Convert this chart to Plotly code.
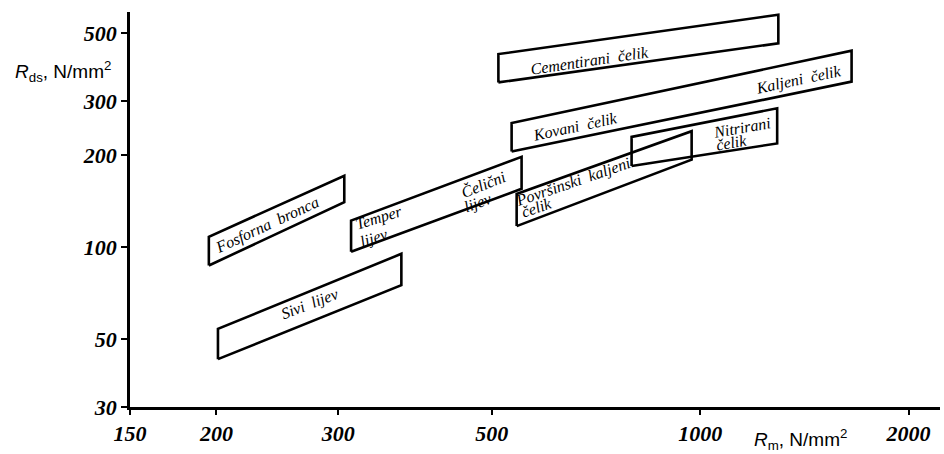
import numpy as np
import plotly.graph_objects as go

# podrucja (paralelogrami): Rm na lijevom i desnom rubu, Rds u kutovima
regions = ["Fosforna bronca", "Sivi lijev", "Temper/Čelični lijev", "Površinski kaljeni čelik",
           "Nitrirani čelik", "Kovani/Kaljeni čelik", "Cementirani čelik"]
rm_left = [195, 201, 313, 543, 796, 534, 511]
rm_right = [306, 370, 552, 972, 1292, 1655, 1297]
rds_left_low = [87, 43, 96.5, 117, 184, 205, 345]
rds_left_high = [108, 54, 122, 149, 229, 254, 427]
rds_right_high = [171, 95, 197, 239, 284, 438, 574]
rds_right_low = [140, 75, 155, 193, 218, 347, 463]

# natpisi
label_text = ["Fosforna  bronca", "Sivi  lijev", "Temper", "lijev", "Čelični", "lijev",
              "Cementirani  čelik", "Kovani  čelik", "Kaljeni  čelik", "Nitrirani", "čelik",
              "Površinski  kaljeni", "čelik"]
label_rm = [237, 273, 343, 338, 486, 478, 693, 660, 1385, 1151, 1111, 656, 580]
label_rds = [118, 65, 124, 107, 161, 139, 408, 247, 351, 245, 219, 163, 135]
label_angle = [-25, -21, -17, -18, -22, -20, -8.5, -12, -12, -10, -10, -19, -19]

x_ticks = [150, 200, 300, 500, 1000, 2000]
y_ticks = [30, 50, 100, 200, 300, 500]

fig = go.Figure()
for i, name in enumerate(regions):
    xs = [rm_left[i], rm_left[i], rm_right[i], rm_right[i], rm_left[i]]
    ys = [rds_left_low[i], rds_left_high[i], rds_right_high[i], rds_right_low[i], rds_left_low[i]]
    fig.add_trace(go.Scatter(x=xs, y=ys, mode="lines", name=name,
                             line=dict(color="black", width=2.6), hoverinfo="name"))

for t, xv, yv, a in zip(label_text, label_rm, label_rds, label_angle):
    fig.add_annotation(x=np.log10(xv), y=np.log10(yv), xref="x", yref="y",
                       text=t.replace("  ", " \u00a0"), showarrow=False, textangle=a,
                       font=dict(family="Liberation Serif", size=16, style="italic", color="black"))

tick_font = dict(family="Liberation Serif", size=22, style="italic", weight="bold", color="black")
fig.update_xaxes(type="log", range=[np.log10(150), np.log10(2221)],
                 tickvals=x_ticks, ticktext=[str(v) for v in x_ticks],
                 ticks="outside", ticklen=5, tickwidth=1.5, tickcolor="black",
                 showline=True, linewidth=2.5, linecolor="black",
                 showgrid=False, zeroline=False, tickfont=tick_font)
fig.update_yaxes(type="log", range=[np.log10(30), np.log10(586)],
                 tickvals=y_ticks, ticktext=[str(v) for v in y_ticks],
                 ticks="outside", ticklen=6, tickwidth=1.5, tickcolor="black",
                 showline=True, linewidth=2.5, linecolor="black",
                 showgrid=False, zeroline=False, tickfont=tick_font)

title_font = dict(family="Liberation Sans", size=19, color="black")
fig.add_annotation(x=-0.1444, y=0.85, xref="paper", yref="paper", xanchor="left", yanchor="middle",
                   text="<i>R</i><sub>ds</sub>, N/mm<sup>2</sup>", showarrow=False, font=title_font)
fig.add_annotation(x=0.768, y=-0.083, xref="paper", yref="paper", xanchor="left", yanchor="middle",
                   text="<i>R</i><sub>m</sub>, N/mm<sup>2</sup>", showarrow=False, font=title_font)

fig.update_layout(width=944, height=454, margin=dict(l=130, r=4, t=12, b=47),
                  plot_bgcolor="white", paper_bgcolor="white", showlegend=False)

fig.write_html("out.html", config={"displayModeBar": False},
               post_script="document.body.style.margin='0';")
